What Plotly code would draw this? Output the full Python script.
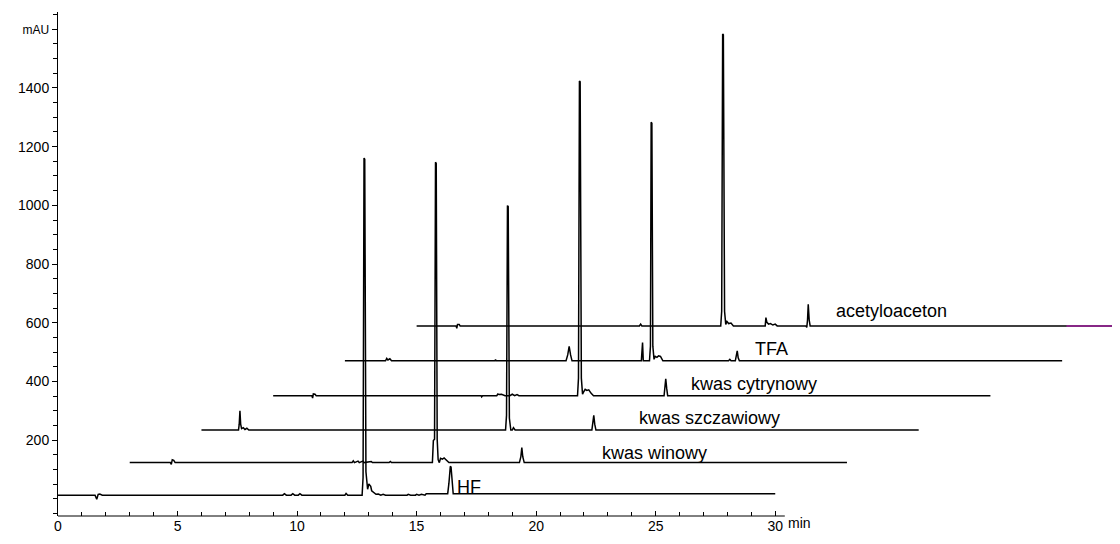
import plotly.graph_objects as go

# ---------------- data ----------------
trace_names = ["HF", "kwas winowy", "kwas szczawiowy", "kwas cytrynowy", "TFA", "acetyloaceton"]
x_offsets = [0, 3, 6, 9, 12, 15]            # min shift of each stacked trace
y_offsets = [12, 123, 234, 351, 470, 589]    # mAU shift of each stacked trace

# relative time (min) / signal (mAU above own baseline)
hf_t = [0, 1.55, 1.62, 1.68, 1.75, 1.85, 9.4, 9.47, 9.55, 9.75, 9.82, 9.9, 10.05, 10.12, 10.2,
        12.0, 12.05, 12.12, 12.72, 12.76, 12.80, 12.83, 12.88, 12.95, 13.0, 13.08, 13.12, 13.2, 13.3, 13.4,
        13.5, 13.6, 13.7, 14.6, 14.65, 14.75, 14.95, 15.0, 15.1, 15.2, 15.35, 15.4,
        16.3, 16.35, 16.41, 16.44, 16.48, 16.53, 30]
hf_v = [0, 0, -14, 3, 4, 0, 0, 5, 0, 0, 5, 0, 0, 5, 0,
        0, 6, 0, 0, 60, 1149, 1145, 80, 20, 38, 30, 15, 8, 3, 4,
        0, 3, 0, 0, 3, 0, 0, 3, 0, 3, 0, 5,
        5, 40, 98, 96, 40, 5, 5]

win_t = [0, 1.7, 1.74, 1.78, 1.84, 1.9, 9.3, 9.35, 9.4, 9.55, 9.6, 9.75, 9.8, 10.1, 10.15,
         10.85, 10.9, 10.95, 12.66, 12.7, 12.75, 12.79, 12.82, 12.86, 12.9, 12.95, 13.0, 13.08, 13.15,
         13.25, 13.35, 16.3, 16.36, 16.4, 16.44, 16.5, 30]
win_v = [0, 0, -6, 10, 8, 0, 0, 6, 0, 5, 0, 5, 0, 4, 0,
         0, 4, 0, 0, 75, 80, 1024, 1020, 80, 10, 0, 15, 12, 16,
         8, 0, 0, 20, 51, 20, 0, 0]

szc_t = [0, 1.55, 1.58, 1.61, 1.64, 1.68, 1.75, 1.82, 1.9, 1.98, 12.72, 12.76, 12.80, 12.83, 12.88,
         12.94, 13.0, 13.05, 13.12, 16.33, 16.37, 16.41, 16.45, 16.5, 30]
szc_v = [0, 0, 20, 66, 20, 5, 8, 2, 6, 0, 0, 50, 765, 762, 40,
         0, 0, 8, 0, 0, 25, 50, 20, 0, 0]

cyt_t = [0, 1.62, 1.65, 1.68, 1.75, 1.8, 8.7, 8.72, 8.76, 9.35, 9.4, 9.45, 9.55, 9.7, 9.9,
         10.0, 10.1, 10.2, 10.28, 12.73, 12.77, 12.81, 12.84, 12.89, 12.94, 12.98, 13.05, 13.12, 13.2,
         13.3, 13.4, 16.35, 16.38, 16.42, 16.46, 16.5, 30]
cyt_v = [0, 0, -8, 6, 5, 0, 0, -4, 0, 0, 6, 4, 5, 0, 0,
         5, 0, 4, 0, 0, 60, 1073, 1070, 60, 5, 12, 22, 18, 20,
         8, 0, 0, 25, 58, 25, 0, 0]

tfa_t = [0, 1.7, 1.75, 1.8, 1.88, 1.95, 6.28, 6.3, 6.33, 9.25, 9.32, 9.38, 9.44, 9.5,
         12.4, 12.43, 12.45, 12.48, 12.74, 12.78, 12.81, 12.84, 12.88, 12.93, 12.98, 13.05, 13.12, 13.2, 13.3,
         16.05, 16.1, 16.15, 16.33, 16.37, 16.41, 16.45, 16.5, 30]
tfa_v = [0, 0, 8, 3, 7, 0, 0, 4, 0, 0, 20, 49, 20, 0,
         0, 62, 62, 0, 0, 50, 813, 810, 50, 5, 15, 12, 17, 15, 0,
         0, 5, 0, 0, 15, 34, 10, 0, 0]

ace_t = [0, 1.65, 1.68, 1.71, 1.78, 1.82, 9.32, 9.37, 9.42, 12.72, 12.76, 12.80, 12.83, 12.88, 12.93,
         12.98, 13.05, 13.15, 13.25, 14.58, 14.61, 14.65, 14.72, 14.8, 14.9, 15.0, 15.08,
         16.28, 16.32, 16.35, 16.38, 16.42, 16.46, 30]
ace_v = [0, 0, -8, 5, 5, 0, 0, 6, 0, 0, 50, 995, 992, 50, 5,
         15, 8, 10, 0, 0, 28, 12, 6, 8, 3, 6, 0,
         0, -5, 20, 74, 20, 0, 0]

purple_t = [27.18, 30]      # coloured tail on the acetyloaceton baseline
purple_v = [0, 0]

series_t = [hf_t, win_t, szc_t, cyt_t, tfa_t, ace_t]
series_v = [hf_v, win_v, szc_v, cyt_v, tfa_v, ace_v]

label_x = [16.62, 22.67, 24.2, 26.4, 29.07, 32.45]
label_y = [40, 156, 275, 391, 511, 639]

x_ticks = [0, 5, 10, 15, 20, 25, 30]
y_ticks = [0, 200, 400, 600, 800, 1000, 1200, 1400, 1600]
y_ticktext = ["", "200", "400", "600", "800", "1000", "1200", "1400",
              "<span style='font-size:12px'>mAU</span>"]

# ---------------- figure ----------------
FONT = "Arial, 'Liberation Sans', sans-serif"
fig = go.Figure()
for name, ts, vs, xo, yo in zip(trace_names, series_t, series_v, x_offsets, y_offsets):
    fig.add_trace(go.Scatter(x=[t + xo for t in ts], y=[v + yo for v in vs], mode="lines",
                             line=dict(color="black", width=1.5), name=name,
                             showlegend=False, hoverinfo="skip"))
fig.add_trace(go.Scatter(x=[t + x_offsets[5] for t in purple_t],
                         y=[v + y_offsets[5] for v in purple_v], mode="lines",
                         line=dict(color="#a0209f", width=1.5), showlegend=False,
                         hoverinfo="skip"))

for name, lx, ly in zip(trace_names, label_x, label_y):
    fig.add_annotation(x=lx, y=ly, xref="x", yref="y", text=name, showarrow=False,
                       xanchor="left", yanchor="middle",
                       font=dict(family=FONT, size=18, color="black"))

fig.add_annotation(x=30.45, y=0, xref="x", yref="paper", text="min", showarrow=False,
                   xanchor="left", yanchor="middle", yshift=-7,
                   font=dict(family=FONT, size=14, color="black"))

# x axis line only spans 0..30.4 min
fig.add_shape(type="line", xref="x", yref="paper", x0=0, x1=30.4, y0=0, y1=0,
              line=dict(color="black", width=1))

# page body has an 8 px margin, so the figure is 8 px smaller and margins compensate
fig.update_layout(
    template="none",
    width=1112, height=536,
    margin=dict(l=50, r=0, t=4, b=28),
    paper_bgcolor="white", plot_bgcolor="white",
    font=dict(family=FONT, size=14, color="black"),
    xaxis=dict(range=[0, 44.42], automargin=False, showline=False, showgrid=False, zeroline=False,
               tickmode="array", tickvals=x_ticks, ticktext=[str(v) for v in x_ticks],
               ticks="inside", ticklen=5, tickcolor="black", tickwidth=1,
               minor=dict(tickmode="array", tickvals=list(range(0, 31)), ticks="inside",
                          ticklen=4, tickcolor="black", tickwidth=1, showgrid=False),
               tickfont=dict(family=FONT, size=14)),
    yaxis=dict(range=[-59, 1659], automargin=False, showline=True, linecolor="black", linewidth=1,
               showgrid=False, zeroline=False,
               tickmode="array", tickvals=y_ticks, ticktext=y_ticktext,
               ticks="outside", ticklen=5, tickcolor="black", tickwidth=1,
               minor=dict(tickmode="array", tickvals=list(range(-50, 1651, 50)),
                          ticks="outside", ticklen=4, tickcolor="black", tickwidth=1,
                          showgrid=False),
               tickfont=dict(family=FONT, size=14)),
)

fig.write_html("out.html")
